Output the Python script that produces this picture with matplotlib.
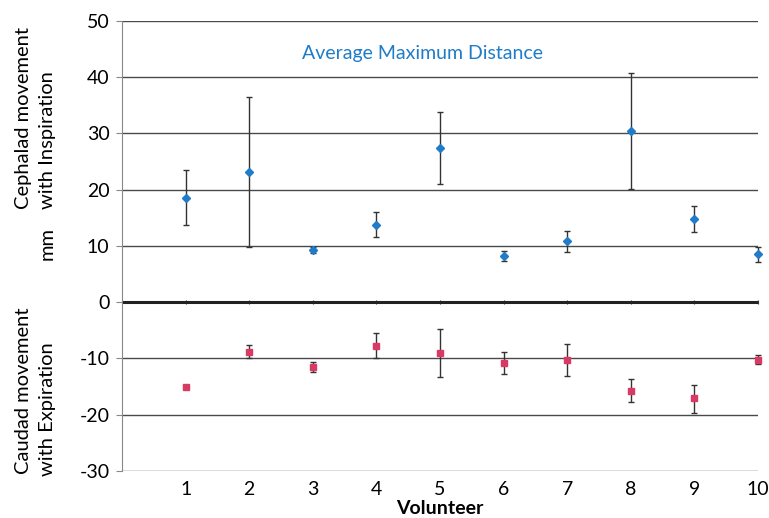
import matplotlib
matplotlib.use('Agg')
import matplotlib.pyplot as plt
import numpy as np

plt.rcParams['font.family'] = ['Lato', 'DejaVu Sans']
plt.rcParams['axes.unicode_minus'] = False

volunteers = [1, 2, 3, 4, 5, 6, 7, 8, 9, 10]

# cephalad movement with inspiration (mm), with lower / upper bar ends
insp_mean = [18.6, 23.1, 9.3, 13.7, 27.5, 8.2, 10.9, 30.5, 14.8, 8.5]
insp_low = [13.8, 9.8, 8.8, 11.6, 21.1, 7.3, 9.0, 20.2, 12.5, 7.1]
insp_high = [23.5, 36.5, 9.8, 16.0, 33.8, 9.1, 12.7, 40.8, 17.1, 9.8]

# caudad movement with expiration (mm)
exp_mean = [-15.1, -8.8, -11.5, -7.8, -9.1, -10.8, -10.3, -15.7, -17.1, -10.2]
exp_low = [-15.5, -10.0, -12.4, -10.0, -13.3, -12.7, -13.2, -17.7, -19.6, -11.0]
exp_high = [-14.7, -7.65, -10.6, -5.45, -4.8, -8.8, -7.4, -13.7, -14.7, -9.3]

y_ticks = [-30, -20, -10, 0, 10, 20, 30, 40, 50]

insp_err = [np.array(insp_mean) - np.array(insp_low), np.array(insp_high) - np.array(insp_mean)]
exp_err = [np.array(exp_mean) - np.array(exp_low), np.array(exp_high) - np.array(exp_mean)]

fig = plt.figure(figsize=(7.69, 5.18), dpi=100)
ax = fig.add_axes([122 / 769, 1 - 471 / 518, (758 - 122) / 769, (471 - 21) / 518])

for y in y_ticks:
    if y != 0:
        ax.axhline(y, color='#4a4a4a', lw=1.0, zorder=1)
ax.axhline(0, color='#222222', lw=2.2, zorder=1)

ax.errorbar(volunteers, insp_mean, yerr=insp_err, fmt='D', color='#1e7cc8', ms=4.5,
            ecolor='#333333', elinewidth=1, capsize=2.5, capthick=1, zorder=3, clip_on=False)
ax.errorbar(volunteers, exp_mean, yerr=exp_err, fmt='s', color='#d93a64', ms=4.5,
            ecolor='#333333', elinewidth=1, capsize=2.5, capthick=1, zorder=3, clip_on=False)

ax.set_xlim(0, 10)
ax.set_ylim(-30, 50)
ax.set_yticks(y_ticks)
ax.set_xticks(volunteers)
ax.tick_params(axis='y', length=4, color='#888888', labelsize=14, pad=5)
ax.tick_params(axis='x', length=0, labelsize=14, pad=7)

for side in ['top', 'right', 'bottom']:
    ax.spines[side].set_visible(False)
ax.spines['left'].set_color('#888888')

# little tick marks along the zero line
zero_ax = ax.secondary_xaxis(30 / 80)
zero_ax.set_xticks(volunteers)
zero_ax.tick_params(axis='x', length=3, direction='inout', labelbottom=False,
                    labeltop=False, color='#333333')
zero_ax.spines['bottom'].set_visible(False)
zero_ax.spines['top'].set_visible(False)

ax.set_xlabel('Volunteer', fontsize=14, fontweight='bold', labelpad=1.5)

ax.text(4.72, 44.3, 'Average Maximum Distance', color='#1e7cc8', fontsize=14,
        ha='center', va='center')

fig.text(24 / 769, 1 - 118 / 518, 'Cephalad movement', rotation=90, fontsize=14.5,
         ha='center', va='center')
fig.text(47 / 769, 1 - 140 / 518, 'with Inspiration', rotation=90, fontsize=14.5,
         ha='center', va='center')
fig.text(47 / 769, 1 - 244 / 518, 'mm', rotation=90, fontsize=14.5,
         ha='center', va='center')
fig.text(24 / 769, 1 - 391 / 518, 'Caudad movement', rotation=90, fontsize=14.5,
         ha='center', va='center')
fig.text(47 / 769, 1 - 409 / 518, 'with Expiration', rotation=90, fontsize=14.5,
         ha='center', va='center')

fig.savefig('out.png', dpi=100)
